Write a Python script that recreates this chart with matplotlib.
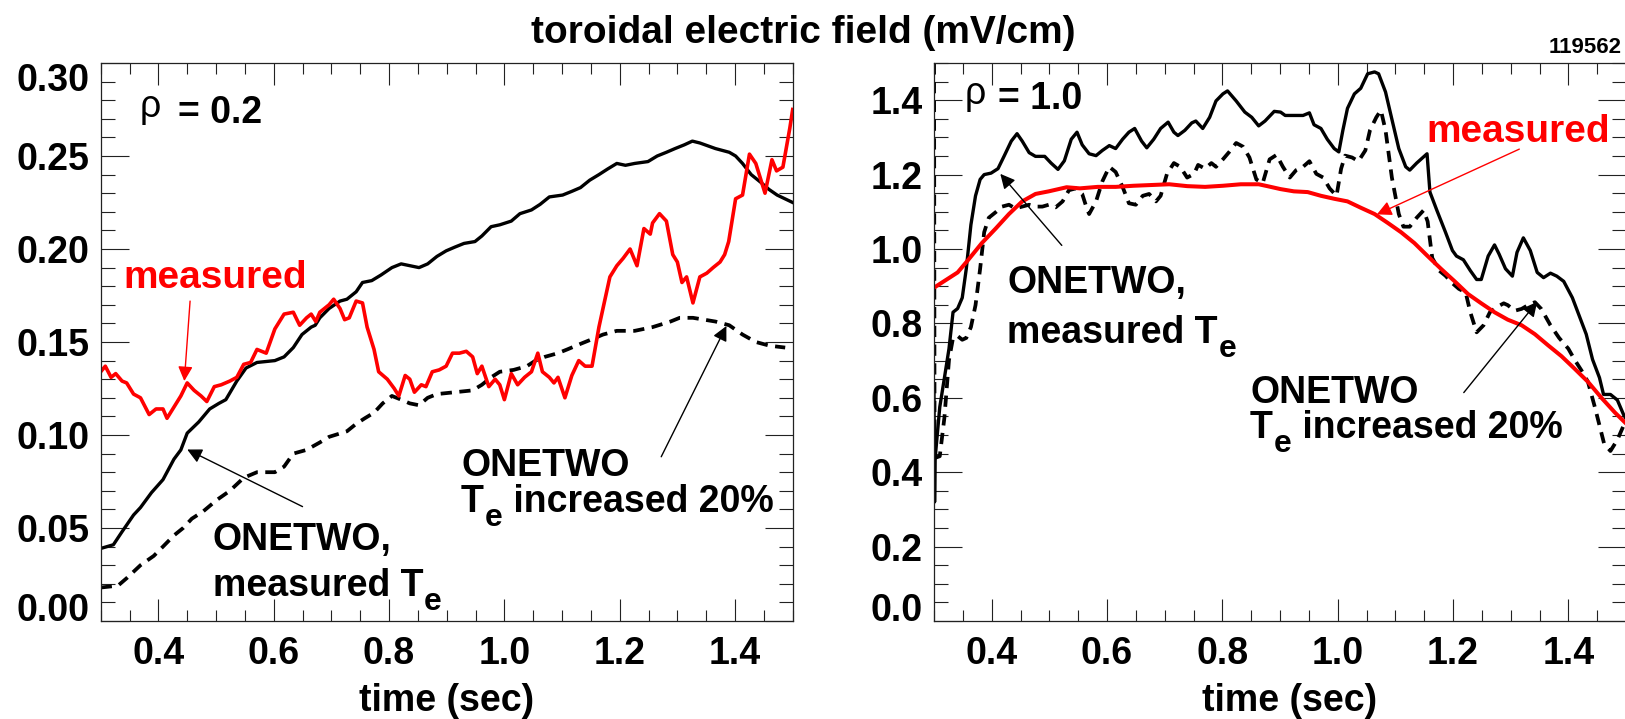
import matplotlib
matplotlib.use('Agg')
import matplotlib.pyplot as plt
from matplotlib.ticker import MultipleLocator

plt.rcParams['font.family'] = ['Liberation Sans', 'DejaVu Sans']
plt.rcParams['font.weight'] = 'bold'
plt.rcParams['axes.labelweight'] = 'bold'

# ---- rho = 0.2 ----
# ONETWO, measured Te (solid)
t_l_sim = [0.300, 0.322, 0.337, 0.357, 0.369, 0.388, 0.408, 0.427, 0.439, 0.450,
           0.470, 0.489, 0.505, 0.517, 0.536, 0.552, 0.571, 0.602, 0.618, 0.634,
           0.649, 0.665, 0.672, 0.680, 0.696, 0.715, 0.727, 0.743, 0.754, 0.770,
           0.786, 0.805, 0.821, 0.852, 0.867, 0.883, 0.899, 0.914, 0.930, 0.949,
           0.961, 0.977, 0.992, 1.012, 1.027, 1.047, 1.062, 1.078, 1.101, 1.117,
           1.132, 1.148, 1.164, 1.179, 1.195, 1.210, 1.226, 1.249, 1.265, 1.281,
           1.296, 1.312, 1.326, 1.339, 1.366, 1.390, 1.401, 1.413, 1.428, 1.444,
           1.459, 1.473, 1.500]
e_l_sim = [0.039, 0.041, 0.048, 0.057, 0.061, 0.069, 0.076, 0.087, 0.092, 0.101,
           0.107, 0.114, 0.117, 0.119, 0.129, 0.136, 0.139, 0.140, 0.142, 0.147,
           0.154, 0.158, 0.159, 0.163, 0.168, 0.172, 0.173, 0.177, 0.182, 0.183,
           0.186, 0.190, 0.192, 0.190, 0.192, 0.196, 0.199, 0.201, 0.203, 0.204,
           0.207, 0.212, 0.213, 0.215, 0.219, 0.221, 0.224, 0.228, 0.229, 0.231,
           0.233, 0.237, 0.240, 0.243, 0.246, 0.245, 0.246, 0.247, 0.250, 0.252,
           0.254, 0.256, 0.258, 0.257, 0.254, 0.252, 0.250, 0.246, 0.240, 0.236,
           0.232, 0.229, 0.225]

# ONETWO, Te increased 20% (dashed)
t_l_hot = [0.300, 0.330, 0.345, 0.369, 0.392, 0.408, 0.427, 0.443, 0.458, 0.478,
           0.501, 0.524, 0.548, 0.571, 0.602, 0.618, 0.634, 0.657, 0.680, 0.696,
           0.727, 0.743, 0.758, 0.774, 0.789, 0.805, 0.821, 0.836, 0.852, 0.867,
           0.883, 0.914, 0.945, 0.961, 0.977, 0.992, 1.016, 1.039, 1.054, 1.070,
           1.093, 1.109, 1.132, 1.148, 1.171, 1.195, 1.226, 1.257, 1.288, 1.304,
           1.327, 1.366, 1.390, 1.413, 1.436, 1.460, 1.487]
e_l_hot = [0.018, 0.019, 0.023, 0.030, 0.035, 0.040, 0.046, 0.050, 0.055, 0.059,
           0.065, 0.070, 0.077, 0.080, 0.080, 0.083, 0.090, 0.092, 0.096, 0.099,
           0.102, 0.106, 0.109, 0.112, 0.117, 0.121, 0.119, 0.117, 0.116, 0.120,
           0.122, 0.123, 0.124, 0.127, 0.131, 0.134, 0.135, 0.137, 0.140, 0.142,
           0.144, 0.146, 0.149, 0.151, 0.154, 0.156, 0.156, 0.158, 0.161, 0.163,
           0.163, 0.161, 0.159, 0.154, 0.150, 0.148, 0.147]

# measured (red)
t_l_meas = [0.300, 0.308, 0.318, 0.326, 0.337, 0.345, 0.357, 0.369, 0.384, 0.396,
            0.408, 0.415, 0.427, 0.439, 0.450, 0.462, 0.474, 0.484, 0.497, 0.509,
            0.524, 0.536, 0.548, 0.560, 0.571, 0.587, 0.602, 0.618, 0.634, 0.645,
            0.657, 0.665, 0.673, 0.680, 0.696, 0.704, 0.715, 0.723, 0.731, 0.743,
            0.754, 0.762, 0.774, 0.782, 0.797, 0.809, 0.817, 0.828, 0.836, 0.844,
            0.856, 0.864, 0.875, 0.887, 0.899, 0.910, 0.922, 0.934, 0.945, 0.953,
            0.961, 0.973, 0.984, 0.992, 1.000, 1.012, 1.023, 1.035, 1.047, 1.058,
            1.066, 1.078, 1.086, 1.093, 1.105, 1.117, 1.129, 1.140, 1.152, 1.164,
            1.171, 1.183, 1.195, 1.206, 1.218, 1.230, 1.242, 1.253, 1.257, 1.269,
            1.281, 1.292, 1.300, 1.308, 1.316, 1.327, 1.339, 1.351, 1.362, 1.374,
            1.382, 1.389, 1.401, 1.413, 1.425, 1.436, 1.452, 1.464, 1.472, 1.483,
            1.495, 1.500]
e_l_meas = [0.134, 0.137, 0.131, 0.133, 0.129, 0.128, 0.122, 0.120, 0.111, 0.114,
            0.114, 0.109, 0.115, 0.121, 0.128, 0.124, 0.121, 0.118, 0.126, 0.127,
            0.129, 0.131, 0.138, 0.139, 0.146, 0.144, 0.157, 0.165, 0.166, 0.159,
            0.163, 0.165, 0.161, 0.166, 0.170, 0.173, 0.168, 0.162, 0.163, 0.172,
            0.171, 0.158, 0.146, 0.134, 0.130, 0.125, 0.121, 0.132, 0.130, 0.123,
            0.127, 0.126, 0.134, 0.135, 0.137, 0.144, 0.144, 0.145, 0.142, 0.133,
            0.137, 0.126, 0.130, 0.127, 0.119, 0.133, 0.127, 0.131, 0.134, 0.144,
            0.134, 0.131, 0.128, 0.131, 0.120, 0.132, 0.140, 0.137, 0.137, 0.158,
            0.168, 0.185, 0.191, 0.195, 0.200, 0.191, 0.211, 0.208, 0.214, 0.219,
            0.215, 0.197, 0.193, 0.182, 0.185, 0.171, 0.185, 0.187, 0.190, 0.193,
            0.197, 0.204, 0.227, 0.229, 0.251, 0.246, 0.230, 0.248, 0.242, 0.244,
            0.265, 0.275]

# ---- rho = 1.0 ----
t_r_sim = [0.300, 0.301, 0.302, 0.310, 0.318, 0.326, 0.333, 0.341, 0.349, 0.356,
           0.364, 0.372, 0.380, 0.387, 0.399, 0.411, 0.422, 0.434, 0.444, 0.453,
           0.465, 0.476, 0.492, 0.503, 0.515, 0.526, 0.538, 0.548, 0.557, 0.569,
           0.581, 0.592, 0.604, 0.615, 0.627, 0.638, 0.648, 0.660, 0.669, 0.681,
           0.693, 0.706, 0.716, 0.723, 0.735, 0.747, 0.754, 0.766, 0.778, 0.789,
           0.801, 0.809, 0.824, 0.839, 0.851, 0.863, 0.874, 0.890, 0.901, 0.909,
           0.924, 0.940, 0.951, 0.959, 0.971, 0.982, 0.994, 1.002, 1.009, 1.017,
           1.029, 1.040, 1.052, 1.064, 1.071, 1.083, 1.094, 1.106, 1.118, 1.125,
           1.137, 1.155, 1.160, 1.172, 1.187, 1.199, 1.206, 1.218, 1.230, 1.241,
           1.249, 1.261, 1.272, 1.280, 1.291, 1.303, 1.311, 1.322, 1.334, 1.346,
           1.357, 1.369, 1.380, 1.392, 1.407, 1.419, 1.431, 1.442, 1.454, 1.461,
           1.473, 1.485, 1.496, 1.500]
e_r_sim = [0.614, 0.320, 0.438, 0.575, 0.653, 0.732, 0.830, 0.840, 0.869, 0.947,
           1.065, 1.143, 1.187, 1.200, 1.204, 1.216, 1.251, 1.290, 1.310, 1.290,
           1.259, 1.249, 1.249, 1.231, 1.214, 1.237, 1.295, 1.314, 1.280, 1.256,
           1.251, 1.265, 1.278, 1.270, 1.295, 1.314, 1.324, 1.290, 1.272, 1.295,
           1.324, 1.341, 1.314, 1.305, 1.319, 1.339, 1.344, 1.324, 1.354, 1.398,
           1.417, 1.425, 1.398, 1.368, 1.354, 1.331, 1.344, 1.370, 1.368, 1.359,
           1.359, 1.359, 1.366, 1.334, 1.324, 1.295, 1.270, 1.261, 1.319, 1.378,
           1.417, 1.432, 1.471, 1.476, 1.471, 1.422, 1.349, 1.270, 1.221, 1.212,
           1.231, 1.256, 1.153, 1.104, 1.045, 0.996, 0.981, 0.971, 0.942, 0.918,
           0.918, 0.981, 1.011, 0.986, 0.947, 0.927, 0.991, 1.030, 0.996, 0.937,
           0.923, 0.935, 0.927, 0.913, 0.869, 0.820, 0.771, 0.703, 0.654, 0.609,
           0.609, 0.594, 0.554, 0.544]

t_r_hot = [0.300, 0.301, 0.310, 0.318, 0.326, 0.333, 0.341, 0.349, 0.356, 0.364,
           0.372, 0.380, 0.387, 0.395, 0.407, 0.418, 0.430, 0.441, 0.453, 0.465,
           0.476, 0.488, 0.499, 0.511, 0.523, 0.534, 0.546, 0.557, 0.565, 0.569,
           0.581, 0.592, 0.604, 0.615, 0.627, 0.638, 0.650, 0.662, 0.673, 0.685,
           0.693, 0.704, 0.716, 0.727, 0.739, 0.751, 0.758, 0.770, 0.781, 0.789,
           0.801, 0.812, 0.824, 0.836, 0.847, 0.859, 0.870, 0.882, 0.894, 0.905,
           0.917, 0.928, 0.940, 0.951, 0.963, 0.975, 0.986, 0.998, 1.006, 1.013,
           1.025, 1.036, 1.048, 1.056, 1.067, 1.075, 1.083, 1.094, 1.106, 1.114,
           1.125, 1.137, 1.149, 1.156, 1.164, 1.176, 1.187, 1.199, 1.210, 1.222,
           1.230, 1.241, 1.253, 1.264, 1.276, 1.288, 1.295, 1.307, 1.319, 1.330,
           1.342, 1.353, 1.369, 1.384, 1.400, 1.411, 1.423, 1.434, 1.446, 1.454,
           1.462, 1.473, 1.485, 1.496, 1.500]
e_r_hot = [1.600, 0.438, 0.443, 0.546, 0.702, 0.761, 0.766, 0.756, 0.761, 0.790,
           0.849, 0.947, 1.045, 1.084, 1.099, 1.114, 1.119, 1.109, 1.114, 1.119,
           1.114, 1.114, 1.119, 1.112, 1.128, 1.158, 1.163, 1.148, 1.109, 1.094,
           1.128, 1.182, 1.221, 1.207, 1.167, 1.123, 1.119, 1.143, 1.148, 1.128,
           1.143, 1.202, 1.231, 1.221, 1.192, 1.202, 1.226, 1.216, 1.231, 1.221,
           1.241, 1.261, 1.285, 1.275, 1.246, 1.187, 1.177, 1.241, 1.253, 1.221,
           1.192, 1.212, 1.221, 1.236, 1.202, 1.192, 1.163, 1.143, 1.216, 1.251,
           1.246, 1.236, 1.265, 1.319, 1.354, 1.373, 1.319, 1.192, 1.094, 1.060,
           1.060, 1.084, 1.104, 1.074, 0.976, 0.942, 0.928, 0.908, 0.893, 0.883,
           0.830, 0.776, 0.795, 0.830, 0.844, 0.854, 0.849, 0.834, 0.839, 0.849,
           0.857, 0.839, 0.795, 0.761, 0.732, 0.702, 0.673, 0.643, 0.575, 0.526,
           0.477, 0.457, 0.487, 0.526, 0.536]

t_r_meas = [0.300, 0.322, 0.341, 0.360, 0.383, 0.407, 0.430, 0.453, 0.476, 0.499,
            0.530, 0.553, 0.584, 0.615, 0.646, 0.677, 0.708, 0.739, 0.770, 0.801,
            0.832, 0.863, 0.878, 0.901, 0.924, 0.948, 0.971, 0.994, 1.017, 1.040,
            1.064, 1.087, 1.110, 1.133, 1.156, 1.179, 1.203, 1.226, 1.249, 1.272,
            1.295, 1.319, 1.342, 1.365, 1.388, 1.411, 1.434, 1.458, 1.481, 1.500]
e_r_meas = [0.896, 0.918, 0.937, 0.972, 1.016, 1.055, 1.094, 1.128, 1.148, 1.155,
            1.166, 1.163, 1.167, 1.167, 1.170, 1.172, 1.174, 1.169, 1.167, 1.170,
            1.174, 1.174, 1.169, 1.161, 1.155, 1.153, 1.143, 1.135, 1.128, 1.111,
            1.094, 1.070, 1.045, 1.016, 0.981, 0.947, 0.913, 0.879, 0.854, 0.830,
            0.810, 0.795, 0.771, 0.741, 0.712, 0.678, 0.643, 0.599, 0.560, 0.531]

x_ticks = [0.4, 0.6, 0.8, 1.0, 1.2, 1.4]
x_labels = ['0.4', '0.6', '0.8', '1.0', '1.2', '1.4']
y_ticks_l = [0.00, 0.05, 0.10, 0.15, 0.20, 0.25, 0.30]
y_labels_l = ['0.00', '0.05', '0.10', '0.15', '0.20', '0.25', '0.30']
y_ticks_r = [0.0, 0.2, 0.4, 0.6, 0.8, 1.0, 1.2, 1.4]
y_labels_r = ['0.0', '0.2', '0.4', '0.6', '0.8', '1.0', '1.2', '1.4']

RED = '#ff0000'
FS = 27
W, H = 1625, 719
fig = plt.figure(figsize=(W / 100, H / 100), dpi=100)
axL = fig.add_axes([100.7 / W, 98 / H, 692 / W, 558 / H])
axR = fig.add_axes([934 / W, 98 / H, 692 / W, 558 / H])


def style(ax, yt, ylab, ymin_step, ytop):
    ax.set_xlim(0.3, 1.5)
    ax.set_ylim(0, ytop)
    ax.set_xticks(x_ticks, x_labels)
    ax.set_yticks(yt, ylab)
    ax.xaxis.set_minor_locator(MultipleLocator(0.05))
    ax.yaxis.set_minor_locator(MultipleLocator(ymin_step))
    ax.tick_params(which='both', direction='in', top=True, right=True,
                   color='#222222', width=0.8)
    ax.tick_params(axis='y', which='major', length=20, pad=8, labelsize=FS)
    ax.tick_params(axis='y', which='minor', length=10)
    ax.tick_params(axis='x', which='major', length=16, pad=11, labelsize=FS)
    ax.tick_params(axis='x', which='minor', length=8)
    for s in ax.spines.values():
        s.set_linewidth(0.9)
        s.set_color('#222222')
    ax.set_xlabel('time (sec)', fontsize=FS, fontweight='bold', labelpad=8)
    labs = ax.get_yticklabels()
    labs[0].set_va('baseline')
    if yt[-1] >= ytop - 1e-9:
        labs[-1].set_va('top')


style(axL, y_ticks_l, y_labels_l, 0.01, 0.30)
style(axR, y_ticks_r, y_labels_r, 0.05, 1.5)
axR.xaxis.label.set_x(0.514)

dash = (3, 2)
axL.plot(t_l_sim, e_l_sim, color='black', lw=2.4)
axL.plot(t_l_hot, e_l_hot, color='black', lw=2.7, dashes=dash)
axL.plot(t_l_meas, e_l_meas, color=RED, lw=2.6)

axR.plot(t_r_sim, e_r_sim, color='black', lw=2.4)
axR.plot(t_r_hot, e_r_hot, color='black', lw=2.7, dashes=dash)
axR.plot(t_r_meas, e_r_meas, color=RED, lw=2.9)


def line_te(ax, x, y, before, after, color='black'):
    # "<before>T" + subscript e + "<after>"
    main = ax.text(x, y, before + 'T', color=color, fontsize=FS,
                   ha='left', va='baseline')
    sub = ax.annotate('e', xy=(1, 0), xycoords=main, xytext=(1, -6),
                      textcoords='offset pixels', fontsize=FS * 0.85,
                      color=color, ha='left', va='baseline')
    if after:
        ax.annotate(after, xy=(1, 0), xycoords=(sub, main), xytext=(0, 0),
                    textcoords='offset pixels', fontsize=FS, color=color,
                    ha='left', va='bottom')


def arrow(ax, tail, head, color='black'):
    ax.annotate('', xy=head, xytext=tail,
                arrowprops=dict(arrowstyle='-|>', color=color, lw=1.0,
                                mutation_scale=22, shrinkA=0, shrinkB=0))


# left panel labels
axL.text(0.368, 0.271, '\u03c1', fontsize=FS, weight='normal', va='baseline')
axL.text(0.434, 0.268, '= 0.2', fontsize=FS, va='baseline')
axL.text(0.339, 0.179, 'measured', color=RED, fontsize=28, va='baseline')
arrow(axL, (0.455, 0.172), (0.445, 0.129), RED)
axL.text(0.494, 0.038, 'ONETWO,', fontsize=FS, va='baseline')
line_te(axL, 0.494, 0.0137, 'measured ', '')
arrow(axL, (0.650, 0.0615), (0.450, 0.0922))
axL.text(0.925, 0.0781, 'ONETWO', fontsize=FS, va='baseline')
line_te(axL, 0.925, 0.0586, '', ' increased 20%')
arrow(axL, (1.272, 0.0883), (1.385, 0.1586))

# right panel labels
axR.text(0.353, 1.389, '\u03c1', fontsize=FS, weight='normal', va='baseline')
axR.text(0.411, 1.376, '= 1.0', fontsize=FS, va='baseline')
axR.text(1.153, 1.288, 'measured', color=RED, fontsize=28, va='baseline')
arrow(axR, (1.315, 1.2685), (1.068, 1.093), RED)
axR.text(0.4266, 0.883, 'ONETWO,', fontsize=FS, va='baseline')
line_te(axR, 0.4266, 0.746, 'measured ', '')
arrow(axR, (0.5216, 1.0097), (0.415, 1.202))
axR.text(0.848, 0.585, 'ONETWO', fontsize=FS, va='baseline')
line_te(axR, 0.848, 0.492, '', ' increased 20%')
arrow(axR, (1.2187, 0.614), (1.346, 0.858))

fig.text(803 / W, 1 - 43 / H, 'toroidal electric field (mV/cm)',
         ha='center', va='baseline', fontsize=28)
fig.text(1622 / W, 1 - 53 / H, '119562', ha='right', va='baseline', fontsize=16)

fig.savefig('out.png', dpi=100)
